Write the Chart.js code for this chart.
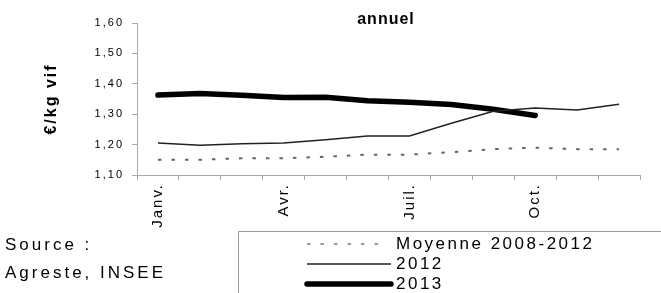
<!DOCTYPE html>
<html>
<head>
<meta charset="utf-8">
<style>
  html, body { margin: 0; padding: 0; background: #fff; }
  canvas { display: block; }
</style>
<script src="https://cdn.jsdelivr.net/npm/chart.js@4.4.1/dist/chart.umd.min.js"></script>
</head>
<body>
<canvas id="myChart" width="661" height="293"></canvas>
<script>
// mois (catégories) et libellés affichés sur l'axe
const months = ['Janv.', 'Févr.', 'Mars', 'Avr.', 'Mai', 'Juin', 'Juil.', 'Août', 'Sept.', 'Oct.', 'Nov.', 'Déc.'];
const monthTicks = ['Janv.', '', '', 'Avr.', '', '', 'Juil.', '', '', 'Oct.', '', ''];
const yTicks = [1.10, 1.20, 1.30, 1.40, 1.50, 1.60];

// €/kg vif
const moyenne = [1.150, 1.150, 1.155, 1.155, 1.160, 1.167, 1.167, 1.175, 1.185, 1.190, 1.185, 1.185];
const prix2012 = [1.205, 1.198, 1.203, 1.205, 1.216, 1.228, 1.228, 1.270, 1.310, 1.320, 1.314, 1.333];
const prix2013 = [1.363, 1.368, 1.362, 1.355, 1.356, 1.344, 1.339, 1.332, 1.316, 1.296];

Chart.defaults.font.family = "'Liberation Sans', Arial, sans-serif";
Chart.defaults.color = '#000';

const ctx = document.getElementById('myChart').getContext('2d');

const spacing = {
    id: 'spacing',
    beforeLayout(chart) { chart.ctx.letterSpacing = '2px'; },
    beforeDraw(chart) { chart.ctx.letterSpacing = '2px'; }
};

const extras = {
    id: 'extras',
    afterDraw(chart) {
        const c = chart.ctx;
        c.save();
        c.fillStyle = '#000';
        c.textBaseline = 'middle';

        // titre
        c.letterSpacing = '1px';
        c.font = "bold 16px 'Liberation Sans', Arial, sans-serif";
        c.textAlign = 'center';
        c.fillText('annuel', 386, 20);

        // source
        c.letterSpacing = '3px';
        c.font = "17px 'Liberation Sans', Arial, sans-serif";
        c.textAlign = 'left';
        c.fillText('Source :', 5, 245);
        c.fillText('Agreste, INSEE', 5, 273);

        // cadre de légende
        c.strokeStyle = '#999';
        c.lineWidth = 1;
        c.beginPath();
        c.moveTo(238.5, 293);
        c.lineTo(238.5, 231.5);
        c.lineTo(661, 231.5);
        c.stroke();

        // entrées de légende
        const rows = [244, 264, 284];
        c.letterSpacing = '2.5px';
        c.font = "17px 'Liberation Sans', Arial, sans-serif";
        chart.data.datasets.forEach((ds, i) => {
            const y = rows[i];
            c.save();
            c.strokeStyle = ds.borderDash ? '#999' : ds.borderColor;
            c.lineWidth = ds.borderWidth;
            c.lineCap = ds.borderCapStyle || 'butt';
            c.setLineDash(ds.borderDash || []);
            c.beginPath();
            c.moveTo(307, y);
            c.lineTo(ds.borderDash ? 388 : 391, y);
            c.stroke();
            c.restore();
            c.fillText(ds.label, 396, y);
        });
        c.restore();
    }
};

new Chart(ctx, {
    type: 'line',
    data: {
        labels: months,
        datasets: [
            {
                label: 'Moyenne 2008-2012',
                data: moyenne,
                borderColor: '#666',
                borderWidth: 2,
                borderDash: [3.5, 10],
                pointRadius: 0,
                tension: 0
            },
            {
                label: '2012',
                data: prix2012,
                borderColor: '#222',
                borderWidth: 1.5,
                pointRadius: 0,
                tension: 0
            },
            {
                label: '2013',
                data: prix2013,
                borderColor: '#000',
                borderWidth: 5.5,
                borderCapStyle: 'round',
                borderJoinStyle: 'round',
                pointRadius: 0,
                tension: 0
            }
        ]
    },
    options: {
        responsive: false,
        animation: false,
        events: [],
        layout: { padding: { left: 42, top: 23, right: 21, bottom: 0 } },
        plugins: {
            legend: { display: false },
            title: { display: false },
            tooltip: { enabled: false }
        },
        scales: {
            x: {
                offset: true,
                grid: { offset: true, drawOnChartArea: false, color: '#aaa', tickLength: 5 },
                border: { color: '#aaa' },
                ticks: {
                    autoSkip: false,
                    minRotation: 90,
                    maxRotation: 90,
                    padding: 3,
                    font: { size: 15 },
                    callback: (v, i) => monthTicks[i]
                },
                afterFit: scale => { scale.height = 118; }
            },
            y: {
                min: yTicks[0],
                max: yTicks[yTicks.length - 1],
                afterBuildTicks: scale => { scale.ticks = yTicks.map(v => ({ value: v })); },
                grid: { drawOnChartArea: false, color: '#aaa', tickLength: 5 },
                border: { color: '#aaa' },
                ticks: {
                    padding: 8,
                    font: { size: 11 },
                    callback: v => v.toFixed(2).replace('.', ',')
                },
                title: {
                    display: true,
                    text: '€/kg vif',
                    padding: 0,
                    font: { size: 16, weight: 'bold' }
                },
                afterFit: scale => { scale.width = 95; }
            }
        }
    },
    plugins: [spacing, extras]
});
</script>
</body>
</html>
